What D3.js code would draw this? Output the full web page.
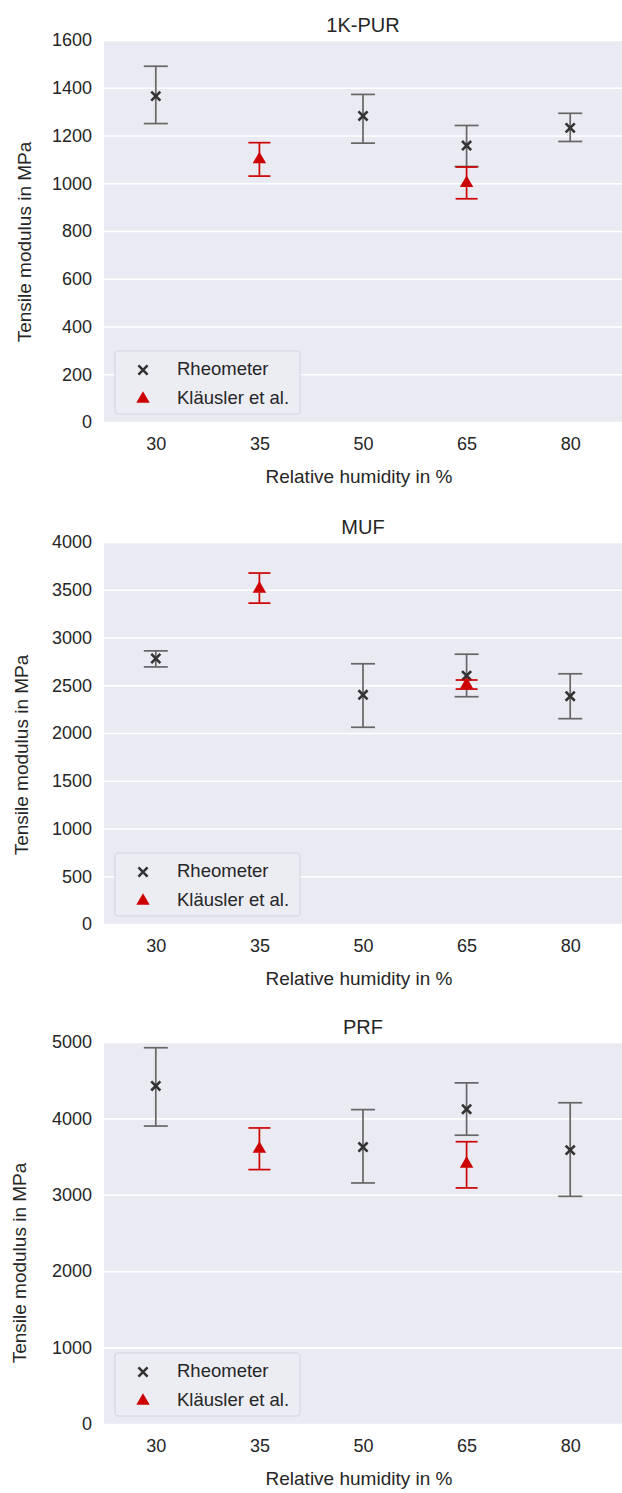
<!DOCTYPE html>
<html>
<head>
<meta charset="utf-8">
<script src="https://cdn.jsdelivr.net/npm/d3@7"></script>
<style>
  body { margin: 0; background: #fff; }
  text { font-family: "Liberation Sans", Arial, sans-serif; fill: #262626; }
</style>
</head>
<body>
<svg id="chart" width="622" height="1493"></svg>
<script>
// categories (x axis)
const humidity = ["30", "35", "50", "65", "80"];
const rheoHumidity = ["30", "50", "65", "80"];
const klaHumidity = ["35", "65"];

// 1K-PUR
const purTicks = [0, 200, 400, 600, 800, 1000, 1200, 1400, 1600];
const purRheoMean = [1365, 1282, 1158, 1232];
const purRheoLow = [1250, 1168, 1070, 1175];
const purRheoHigh = [1490, 1372, 1242, 1293];
const purKlaMean = [1100, 1000];
const purKlaLow = [1030, 935];
const purKlaHigh = [1170, 1068];

// MUF
const mufTicks = [0, 500, 1000, 1500, 2000, 2500, 3000, 3500, 4000];
const mufRheoMean = [2780, 2400, 2600, 2385];
const mufRheoLow = [2692, 2060, 2380, 2150];
const mufRheoHigh = [2860, 2725, 2825, 2620];
const mufKlaMean = [3510, 2505];
const mufKlaLow = [3360, 2460];
const mufKlaHigh = [3675, 2555];

// PRF
const prfTicks = [0, 1000, 2000, 3000, 4000, 5000];
const prfRheoMean = [4425, 3625, 4120, 3585];
const prfRheoLow = [3900, 3155, 3780, 2980];
const prfRheoHigh = [4925, 4115, 4465, 4205];
const prfKlaMean = [3600, 3405];
const prfKlaLow = [3330, 3090];
const prfKlaHigh = [3875, 3695];

const panels = [
  { title: "1K-PUR", top: 40, ticks: purTicks, labelX: 31, labelShift: 11,
    rheo: [purRheoMean, purRheoLow, purRheoHigh], kla: [purKlaMean, purKlaLow, purKlaHigh] },
  { title: "MUF", top: 542, ticks: mufTicks, labelX: 28, labelShift: 22,
    rheo: [mufRheoMean, mufRheoLow, mufRheoHigh], kla: [mufKlaMean, mufKlaLow, mufKlaHigh] },
  { title: "PRF", top: 1042, ticks: prfTicks, labelX: 26, labelShift: 30,
    rheo: [prfRheoMean, prfRheoLow, prfRheoHigh], kla: [prfKlaMean, prfKlaLow, prfKlaHigh] }
];

const svg = d3.select("#chart");

const left = 104, right = 622, plotH = 382;
const bg = "#eaeaf2";
const grey = "#666";
const red = "#cc0000";
const tickSize = 18, labelSize = 19, titleSize = 20, legendSize = 18.5;

const x = d3.scalePoint()
  .domain(humidity)
  .range([left, right])
  .padding(0.5);

function errorBars(g, cats, vals, y, color, capW) {
  const [mean, low, high] = vals;
  const pts = cats.map((c, i) => ({ c, m: mean[i], lo: low[i], hi: high[i] }));
  const eb = g.append("g").attr("stroke", color).attr("stroke-width", 1.7);
  eb.selectAll(".v").data(pts).enter().append("line")
    .attr("x1", d => x(d.c)).attr("x2", d => x(d.c))
    .attr("y1", d => y(d.lo)).attr("y2", d => y(d.hi));
  eb.selectAll(".lo").data(pts).enter().append("line")
    .attr("x1", d => x(d.c) - capW / 2).attr("x2", d => x(d.c) + capW / 2)
    .attr("y1", d => y(d.lo)).attr("y2", d => y(d.lo));
  eb.selectAll(".hi").data(pts).enter().append("line")
    .attr("x1", d => x(d.c) - capW / 2).attr("x2", d => x(d.c) + capW / 2)
    .attr("y1", d => y(d.hi)).attr("y2", d => y(d.hi));
  return pts;
}

const crossPath = d3.symbol(d3.symbolX, 56)();
const triPath = d3.symbol(d3.symbolTriangle, 78)();

panels.forEach(p => {
  const top = p.top, bottom = top + plotH;
  const yMax = d3.max(p.ticks);
  const y = d3.scaleLinear().domain([0, yMax]).range([bottom, top]);
  const g = svg.append("g");

  // background
  g.append("rect")
    .attr("x", left).attr("y", top)
    .attr("width", right - left).attr("height", plotH)
    .attr("fill", bg);

  // grid lines + y tick labels
  const yAxis = g.append("g")
    .attr("transform", `translate(${left},0)`)
    .call(d3.axisLeft(y).tickValues(p.ticks).tickSize(-(right - left)).tickPadding(12).tickFormat(d3.format("d")));
  yAxis.select(".domain").remove();
  yAxis.selectAll(".tick line").attr("stroke", "#fff").attr("stroke-width", 1.6);
  yAxis.selectAll(".tick text").style("font-size", tickSize + "px").attr("fill", "#333");

  // x tick labels
  const xAxis = g.append("g")
    .attr("transform", `translate(0,${bottom})`)
    .call(d3.axisBottom(x).tickSize(0).tickPadding(15));
  xAxis.select(".domain").remove();
  xAxis.selectAll(".tick text").style("font-size", tickSize + "px").attr("fill", "#333");

  // title + axis labels
  g.append("text")
    .attr("x", (left + right) / 2).attr("y", top - 8)
    .attr("text-anchor", "middle")
    .style("font-size", titleSize + "px")
    .text(p.title);

  g.append("text")
    .attr("x", 359).attr("y", bottom + 61)
    .attr("text-anchor", "middle")
    .style("font-size", labelSize + "px")
    .text("Relative humidity in %");

  g.append("text")
    .attr("transform", `translate(${p.labelX},${(top + bottom) / 2 + p.labelShift}) rotate(-90)`)
    .attr("text-anchor", "middle")
    .style("font-size", labelSize + "px")
    .text("Tensile modulus in MPa");

  // Rheometer
  const rPts = errorBars(g, rheoHumidity, p.rheo, y, grey, 24);
  g.selectAll(".rheo").data(rPts).enter().append("path")
    .attr("d", crossPath)
    .attr("transform", d => `translate(${x(d.c)},${y(d.m)})`)
    .attr("fill", "none").attr("stroke", "#333").attr("stroke-width", 2.6);

  // Kläusler et al.
  const kPts = errorBars(g, klaHumidity, p.kla, y, red, 22);
  g.selectAll(".kla").data(kPts).enter().append("path")
    .attr("d", triPath)
    .attr("transform", d => `translate(${x(d.c)},${y(d.m)})`)
    .attr("fill", red);

  // legend
  const lg = g.append("g").attr("transform", `translate(115,${bottom - 71})`);
  lg.append("rect")
    .attr("width", 185).attr("height", 63).attr("rx", 3)
    .attr("fill", "#ececf3").attr("stroke", "#d4d4dc");
  lg.append("path").attr("d", crossPath)
    .attr("transform", "translate(28,19)")
    .attr("fill", "none").attr("stroke", "#333").attr("stroke-width", 2.6);
  lg.append("path").attr("d", triPath)
    .attr("transform", "translate(28,48)")
    .attr("fill", red);
  lg.append("text").attr("x", 62).attr("y", 24).style("font-size", legendSize + "px").text("Rheometer");
  lg.append("text").attr("x", 62).attr("y", 53).style("font-size", legendSize + "px").text("Kläusler et al.");
});
</script>
</body>
</html>
